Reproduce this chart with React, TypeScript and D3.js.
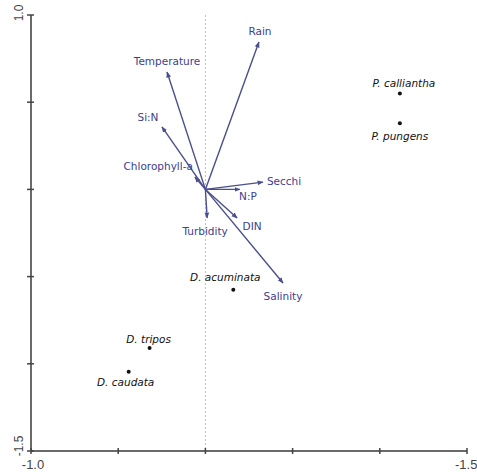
import React from "react";
import * as d3 from "d3";

// Environmental variables (biplot arrows): name, axis1, axis2
const envNames = ["Rain", "Temperature", "Si:N", "Chlorophyll-a", "Secchi", "N:P", "Turbidity", "DIN", "Salinity"];
const envX = [0.307, -0.22, -0.249, -0.06, 0.33, 0.198, 0.01, 0.182, 0.445];
const envY = [0.845, 0.673, 0.358, 0.071, 0.042, 0.0, -0.164, -0.164, -0.537];

// Species scores
const spNames = ["P. calliantha", "P. pungens", "D. acuminata", "D. tripos", "D. caudata"];
const spX = [1.115, 1.115, 0.16, -0.32, -0.44];
const spY = [0.55, 0.38, -0.575, -0.91, -1.045];

// Axis extents / ticks
const xDomain = [-1.0, 1.5];
const yDomain = [-1.5, 1.0];
const ticks = [0, 1, 2, 3, 4, 5];

// Label layout (pixel offsets from tip / point, anchor)
const envLabelLayout: Record<string, [number, number, string]> = {
  "Rain": [1, -10, "middle"],
  "Temperature": [0, -10, "middle"],
  "Si:N": [-14, -9, "middle"],
  "Chlorophyll-a": [-2, -10, "end"],
  "Secchi": [4, 0, "start"],
  "N:P": [8, 8, "middle"],
  "Turbidity": [-2, 14, "middle"],
  "DIN": [15, 9, "middle"],
  "Salinity": [0, 14, "middle"],
};
const spLabelLayout: Record<string, [number, number]> = {
  "P. calliantha": [4, -9],
  "P. pungens": [0, 14],
  "D. acuminata": [-8, -12],
  "D. tripos": [-1, -8],
  "D. caudata": [-3, 11],
};

const W = 477;
const H = 472;
const arrowColor = "#4a4e8e";
const labelColor = "#3c418f";
const axisColor = "#6a6a6a";

export default function App() {
  const x = d3.scaleLinear().domain(xDomain).range([31, 467]);
  const y = d3.scaleLinear().domain(yDomain).range([451, 15]);
  const x0 = x(0);
  const y0 = y(0);
  const xStep = (xDomain[1] - xDomain[0]) / 5;
  const yStep = (yDomain[1] - yDomain[0]) / 5;
  const font = "Liberation Sans, Arial, sans-serif";
  const lblFont = "DejaVu Sans, Verdana, sans-serif";

  return (
    <svg width={W} height={H} style={{ position: "absolute", left: 0, top: 0, background: "#fff" }} fontFamily={font}>
      <defs>
        <marker id="ah" viewBox="0 0 10 10" refX="9" refY="5" markerWidth="6" markerHeight="6" orient="auto" markerUnits="userSpaceOnUse">
          <path d="M0,1 L10,5 L0,9 Z" fill={arrowColor} />
        </marker>
      </defs>
      {/* zero vertical dotted line */}
      <line x1={x0} x2={x0} y1={y(yDomain[1])} y2={y(yDomain[0])} stroke="#bdbdbd" strokeWidth={1} strokeDasharray="2,2" />
      {/* axes */}
      <line x1={x(xDomain[0])} x2={x(xDomain[0])} y1={y(yDomain[1])} y2={y(yDomain[0])} stroke={axisColor} strokeWidth={2} />
      <line x1={x(xDomain[0])} x2={x(xDomain[1])} y1={y(yDomain[0])} y2={y(yDomain[0])} stroke={axisColor} strokeWidth={2} />
      {ticks.map((i) => (
        <g key={"t" + i}>
          <line x1={x(xDomain[0]) - 4} x2={x(xDomain[0]) + 3} y1={y(yDomain[0] + i * yStep)} y2={y(yDomain[0] + i * yStep)} stroke="#444" strokeWidth={1.5} />
          <line x1={x(xDomain[0] + i * xStep)} x2={x(xDomain[0] + i * xStep)} y1={y(yDomain[0]) - 3} y2={y(yDomain[0]) + 3} stroke="#444" strokeWidth={1.5} />
        </g>
      ))}
      {/* axis end labels */}
      <text x={20} y={y(yDomain[1]) - 2} transform={`rotate(-90 20 ${y(yDomain[1]) - 2})`} textAnchor="middle" dominantBaseline="middle" fontSize={12} fill="#444">1.0</text>
      <text x={20} y={y(yDomain[0]) - 5} transform={`rotate(-90 20 ${y(yDomain[0]) - 5})`} textAnchor="middle" dominantBaseline="middle" fontSize={12} fill="#444">-1.5</text>
      <text x={x(xDomain[0]) + 2} y={469} textAnchor="middle" fontSize={13} fill="#444">-1.0</text>
      <text x={x(xDomain[1]) - 12} y={469} textAnchor="start" fontSize={13} fill="#444">-1.5</text>
      {/* arrows */}
      {envNames.map((n, i) => (
        <line key={n} x1={x0} y1={y0} x2={x(envX[i])} y2={y(envY[i])} stroke={arrowColor} strokeWidth={1.4} markerEnd="url(#ah)" />
      ))}
      {envNames.map((n, i) => {
        const [dx, dy, anchor] = envLabelLayout[n];
        return (
          <text key={"l" + n} x={x(envX[i]) + dx} y={y(envY[i]) + dy} textAnchor={anchor} dominantBaseline="middle" fontFamily={lblFont} fontSize={10.5} fill={labelColor}>{n}</text>
        );
      })}
      {/* species */}
      {spNames.map((n, i) => {
        const [dx, dy] = spLabelLayout[n];
        return (
          <g key={n}>
            <circle cx={x(spX[i])} cy={y(spY[i])} r={2} fill="#111" />
            <text x={x(spX[i]) + dx} y={y(spY[i]) + dy} textAnchor="middle" dominantBaseline="middle" fontFamily={lblFont} fontSize={10.5} fontStyle="italic" fill="#111">{n}</text>
          </g>
        );
      })}
    </svg>
  );
}
